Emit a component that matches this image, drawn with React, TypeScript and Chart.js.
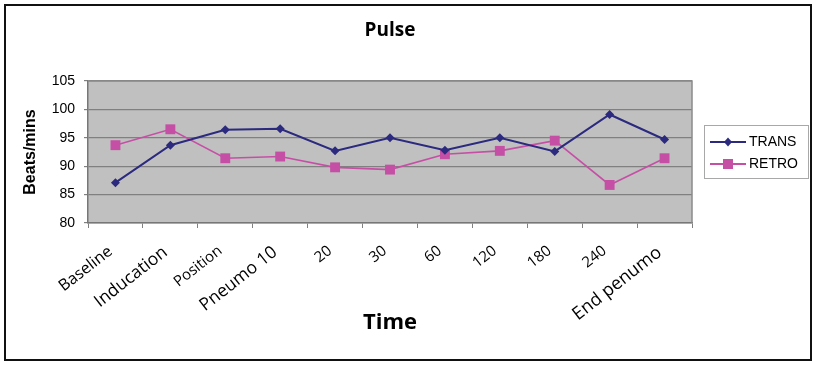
import React, { useEffect, useRef } from "react";
import { Chart, registerables } from "chart.js";

Chart.register(...registerables);

const categories = [
  "Baseline",
  "Inducation",
  "Position",
  "Pneumo 10",
  "20",
  "30",
  "60",
  "120",
  "180",
  "240",
  "End penumo",
];
const transValues = [87.1, 93.7, 96.4, 96.6, 92.7, 95.0, 92.8, 95.0, 92.6, 99.1, 94.7];
const retroValues = [93.7, 96.5, 91.4, 91.7, 89.8, 89.4, 92.1, 92.7, 94.5, 86.7, 91.4];
const yMin = 80;
const yMax = 105;
const yStep = 5;

const TRANS_COLOR = "#2B2A7E";
const RETRO_COLOR = "#C64FA6";
const labelFontSizes = [16, 17.5, 15, 17.5, 15, 15, 15, 15, 15, 15, 18];

function drawMarker(ctx: CanvasRenderingContext2D, style: string, x: number, y: number, color: string) {
  ctx.save();
  ctx.fillStyle = color;
  ctx.beginPath();
  if (style === "diamond") {
    ctx.moveTo(x, y - 4.5);
    ctx.lineTo(x + 4, y);
    ctx.lineTo(x, y + 4.5);
    ctx.lineTo(x - 4, y);
    ctx.closePath();
  } else {
    ctx.rect(x - 5, y - 5, 10, 10);
  }
  ctx.fill();
  ctx.restore();
}

const framePlugin = {
  id: "framePlugin",
  beforeDraw(chart: any) {
    const { ctx, chartArea } = chart;
    ctx.save();
    ctx.fillStyle = "#ffffff";
    ctx.fillRect(0, 0, chart.width, chart.height);
    ctx.fillStyle = "#C0C0C0";
    ctx.fillRect(chartArea.left, chartArea.top, chartArea.right - chartArea.left, chartArea.bottom - chartArea.top);
    ctx.strokeStyle = "#111111";
    ctx.lineWidth = 2;
    ctx.strokeRect(5, 5, 806, 355);
    ctx.restore();
  },
  beforeDatasetsDraw(chart: any) {
    const { ctx, chartArea } = chart;
    ctx.save();
    ctx.strokeStyle = "#8a8a8a";
    ctx.lineWidth = 1.5;
    ctx.beginPath();
    ctx.moveTo(chartArea.left, chartArea.top);
    ctx.lineTo(chartArea.right, chartArea.top);
    ctx.lineTo(chartArea.right, chartArea.bottom);
    ctx.stroke();
    ctx.restore();
  },
  afterDraw(chart: any) {
    const { ctx } = chart;
    ctx.save();
    ctx.fillStyle = "#ffffff";
    ctx.fillRect(704.5, 125.5, 104, 53);
    ctx.strokeStyle = "#a8a8a8";
    ctx.lineWidth = 1;
    ctx.strokeRect(704.5, 125.5, 104, 53);
    const items = [
      { label: chart.data.datasets[0].label, color: TRANS_COLOR, style: "diamond", y: 142 },
      { label: chart.data.datasets[1].label, color: RETRO_COLOR, style: "square", y: 164 },
    ];
    ctx.font = "14px 'Liberation Sans', Arial, sans-serif";
    ctx.textBaseline = "middle";
    ctx.textAlign = "left";
    for (const it of items) {
      ctx.strokeStyle = it.color;
      ctx.lineWidth = 2;
      ctx.beginPath();
      ctx.moveTo(710, it.y);
      ctx.lineTo(746, it.y);
      ctx.stroke();
      drawMarker(ctx, it.style, 728, it.y, it.color);
      ctx.fillStyle = "#000000";
      ctx.fillText(it.label, 749, it.y + 0.5);
    }
    ctx.restore();
  },
};

export default function App() {
  const ref = useRef<HTMLCanvasElement | null>(null);

  useEffect(() => {
    document.body.style.margin = "0";
    const canvas = ref.current;
    if (!canvas) return;
    const chart = new Chart(canvas, {
      type: "line",
      data: {
        labels: categories,
        datasets: [
          {
            label: "TRANS",
            data: transValues,
            borderColor: TRANS_COLOR,
            backgroundColor: TRANS_COLOR,
            borderWidth: 2,
            pointStyle: "rectRot",
            pointRadius: 4.5,
            pointBorderWidth: 0,
            tension: 0,
          },
          {
            label: "RETRO",
            data: retroValues,
            borderColor: RETRO_COLOR,
            backgroundColor: RETRO_COLOR,
            borderWidth: 1.6,
            pointStyle: "rect",
            pointRadius: 7,
            pointBorderWidth: 0,
            tension: 0,
          },
        ],
      },
      options: {
        animation: false,
        responsive: false,
        devicePixelRatio: 1,
        layout: { padding: { left: 10, right: 125, top: 0, bottom: 0 } },
        plugins: {
          legend: { display: false },
          tooltip: { enabled: false },
          title: {
            display: true,
            text: "Pulse",
            fullSize: false,
            color: "#000000",
            font: { family: "'Open Sans', sans-serif", size: 19, weight: "bold", lineHeight: 1.2 },
            padding: { top: 19, bottom: 39.2 },
          },
        },
        scales: {
          x: {
            type: "category",
            offset: true,
            afterFit: (scale: any) => {
              scale.height = 142;
            },
            grid: {
              offset: true,
              drawOnChartArea: false,
              drawTicks: true,
              tickLength: 5,
              color: "#808080",
            },
            border: { display: true, color: "#777777", width: 1.5 },
            ticks: {
              autoSkip: false,
              maxRotation: 38,
              minRotation: 38,
              padding: 14,
              labelOffset: -5,
              color: "#000000",
              font: (ctx: any) => ({
                family: "'Open Sans', sans-serif",
                size: labelFontSizes[ctx.index] ?? 15,
              }),
            },
            title: {
              display: true,
              text: "Time",
              color: "#000000",
              font: { family: "'Open Sans', sans-serif", size: 22, weight: "bold", lineHeight: 1.2 },
              padding: { top: 0, bottom: 29 },
            },
          },
          y: {
            min: yMin,
            max: yMax,
            afterFit: (scale: any) => {
              scale.width = 78;
            },
            grid: {
              color: "#808080",
              lineWidth: 1.2,
              drawTicks: true,
              tickLength: 4,
            },
            border: { display: true, color: "#777777", width: 1.5 },
            ticks: {
              stepSize: yStep,
              padding: 9,
              color: "#000000",
              font: { family: "'Liberation Sans', Arial, sans-serif", size: 14 },
            },
            title: {
              display: true,
              text: "Beats/mins",
              color: "#000000",
              font: { family: "'Liberation Sans', Arial, sans-serif", size: 16, weight: "bold", lineHeight: 1.2 },
              padding: { top: 11, bottom: 0 },
            },
          },
        },
      },
      plugins: [framePlugin],
    });
    return () => chart.destroy();
  }, []);

  return (
    <div style={{ width: 817, height: 365, position: "relative" }}>
      <canvas ref={ref} width={817} height={365} style={{ display: "block", width: 817, height: 365 }} />
    </div>
  );
}
